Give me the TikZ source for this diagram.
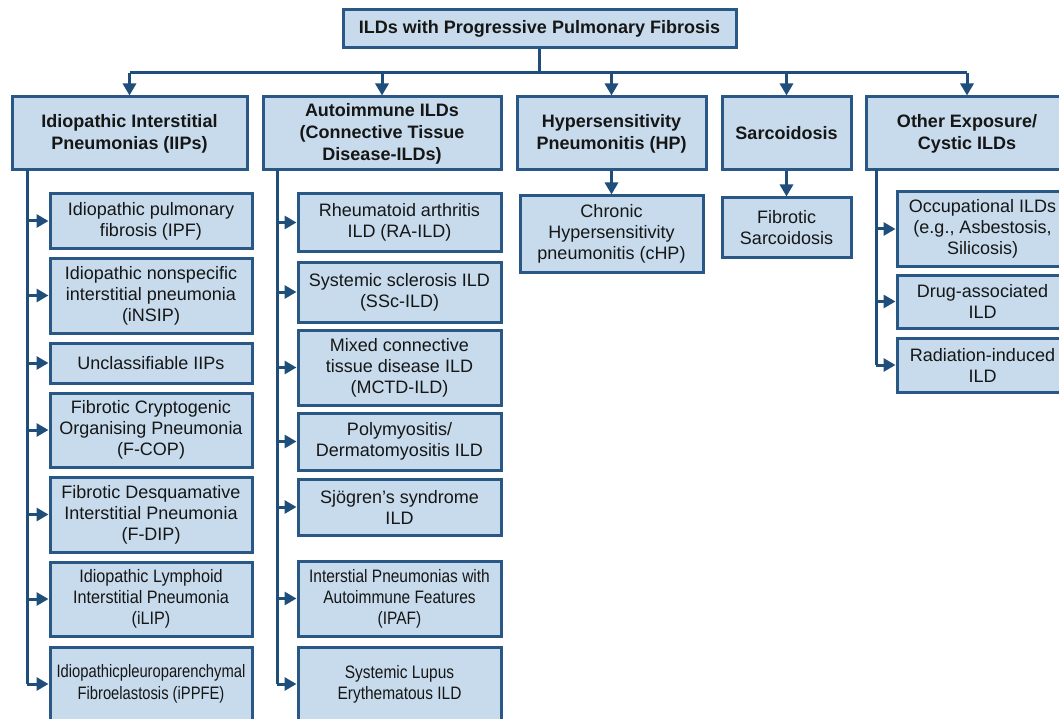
\documentclass[tikz,border=0pt]{standalone}
\usepackage{fontspec}
\setmainfont{Liberation Sans}
\newfontfamily\narrowfont[FakeStretch=0.86]{Liberation Sans}
\newfontfamily\lipfont[FakeStretch=0.9]{Liberation Sans}
\newfontfamily\narrowerfont[FakeStretch=0.82]{Liberation Sans}
\usetikzlibrary{arrows.meta}
\definecolor{boxfill}{HTML}{C7DBEC}
\definecolor{boxline}{HTML}{295886}
\definecolor{arrowc}{HTML}{1F4E7A}
\definecolor{txt}{HTML}{161616}
\begin{document}
\begin{tikzpicture}[x=1pt,y=-1pt,
  box/.style={draw=boxline, line width=3pt, fill=boxfill, inner sep=0pt, align=center, text=txt, font=\fontsize{18}{21}\selectfont},
  head/.style={box, font=\fontsize{18}{22}\selectfont\bfseries},
  narrow/.style={font=\fontsize{18}{21}\narrowfont},
  narrowlip/.style={font=\fontsize{18}{21}\lipfont},
  narrower/.style={font=\fontsize{18}{22}\narrowerfont},
  conn/.style={draw=arrowc, line width=3pt, -{Triangle[length=12pt,width=13pt]}},
  trunk/.style={draw=arrowc, line width=3pt}
]
\useasboundingbox (0,0) rectangle (1059,719);
\fill[white] (0,0) rectangle (1059,719);
\begin{scope}
\clip (0,0) rectangle (1059,719);
% title
\node[head, minimum width=393pt, minimum height=38pt] (title) at (539.5,29) {ILDs with Progressive Pulmonary Fibrosis};
% categories
\node[head, minimum width=235pt, minimum height=73pt] (iip) at (129.5,133.5) {Idiopathic Interstitial\\Pneumonias (IIPs)};
\node[head, minimum width=238pt, minimum height=73pt] (ai) at (382,133.5) {Autoimmune ILDs\\(Connective Tissue\\Disease-ILDs)};
\node[head, minimum width=189pt, minimum height=73pt] (hp) at (611.5,133.5) {Hypersensitivity\\Pneumonitis (HP)};
\node[head, minimum width=129pt, minimum height=73pt] (sarc) at (786.5,133.5) {Sarcoidosis};
\node[head, minimum width=202pt, minimum height=73pt] (oth) at (967,133.5) {Other Exposure/\\Cystic ILDs};
% IIP children
\node[box, minimum width=202pt, minimum height=54pt] (ipf) at (151,221) {Idiopathic pulmonary\\fibrosis (IPF)};
\node[box, minimum width=202pt, minimum height=75pt] (nsip) at (151,295.5) {Idiopathic nonspecific\\interstitial pneumonia\\(iNSIP)};
\node[box, minimum width=202pt, minimum height=40pt] (uncl) at (151,363) {Unclassifiable IIPs};
\node[box, minimum width=202pt, minimum height=74pt] (fcop) at (151,430) {Fibrotic Cryptogenic\\Organising Pneumonia\\(F-COP)};
\node[box, minimum width=202pt, minimum height=75pt] (fdip) at (151,514.5) {Fibrotic Desquamative\\Interstitial Pneumonia\\(F-DIP)};
\node[box, narrowlip, minimum width=202pt, minimum height=74pt] (ilip) at (151,599) {Idiopathic Lymphoid\\Interstitial Pneumonia\\(iLIP)};
\node[box, narrower, minimum width=202pt, minimum height=74pt] (ppfe) at (151,684) {Idiopathicpleuroparenchymal\\Fibroelastosis (iPPFE)};
% AI children
\node[box, minimum width=203pt, minimum height=57pt] (ra) at (399.5,222.5) {Rheumatoid arthritis\\ILD (RA-ILD)};
\node[box, minimum width=203pt, minimum height=60pt] (ssc) at (399.5,292) {Systemic sclerosis ILD\\(SSc-ILD)};
\node[box, minimum width=203pt, minimum height=75pt] (mctd) at (399.5,367.5) {Mixed connective\\tissue disease ILD\\(MCTD-ILD)};
\node[box, minimum width=203pt, minimum height=57pt] (pm) at (399.5,441.5) {Polymyositis/\\Dermatomyositis ILD};
\node[box, minimum width=203pt, minimum height=56pt] (sjo) at (399.5,507) {Sjögren's syndrome\\ILD};
\node[box, narrow, minimum width=203pt, minimum height=75pt] (ipaf) at (399.5,598.5) {Interstial Pneumonias with\\Autoimmune Features\\(IPAF)};
\node[box, narrow, minimum width=203pt, minimum height=74pt] (sle) at (399.5,684) {Systemic Lupus\\Erythematous ILD};
% HP and sarcoidosis children
\node[box, minimum width=183pt, minimum height=76pt] (chp) at (611.5,234) {Chronic\\Hypersensitivity\\pneumonitis (cHP)};
\node[box, minimum width=129pt, minimum height=59pt] (fsarc) at (786.5,227.5) {Fibrotic\\Sarcoidosis};
% Other children
\node[box, minimum width=171pt, minimum height=74pt] (occ) at (982.5,229) {Occupational ILDs\\(e.g., Asbestosis,\\Silicosis)};
\node[box, minimum width=171pt, minimum height=53pt] (drug) at (982.5,301.5) {Drug-associated\\ILD};
\node[box, minimum width=171pt, minimum height=54pt] (rad) at (982.5,365) {Radiation-induced\\ILD};
% top connectors
\coordinate (j) at (title.south |- 0,73);
\draw[trunk] (title.south) -- (j);
\draw[trunk] (iip.north |- j) -- (oth.north |- j);
\foreach \n in {iip,ai,hp,sarc,oth}{\draw[conn] (\n.north |- j) -- (\n.north);}
\draw[conn] (hp.south) -- (chp.north);
\draw[conn] (sarc.south) -- (fsarc.north);
% IIP trunk
\coordinate (t1) at (27,170);
\draw[trunk] (t1) -- (t1 |- ppfe.west);
\foreach \n in {ipf,nsip,uncl,fcop,fdip,ilip,ppfe}{\draw[conn] (t1 |- \n.west) -- (\n.west);}
% AI trunk
\coordinate (t2) at (277,170);
\draw[trunk] (t2) -- (t2 |- sle.west);
\foreach \n in {ra,ssc,mctd,pm,sjo,ipaf,sle}{\draw[conn] (t2 |- \n.west) -- (\n.west);}
% Other trunk
\coordinate (t3) at (876,169);
\draw[trunk] (t3) -- (t3 |- rad.west);
\foreach \n in {occ,drug,rad}{\draw[conn] (t3 |- \n.west) -- (\n.west);}
\end{scope}
\end{tikzpicture}
\end{document}
